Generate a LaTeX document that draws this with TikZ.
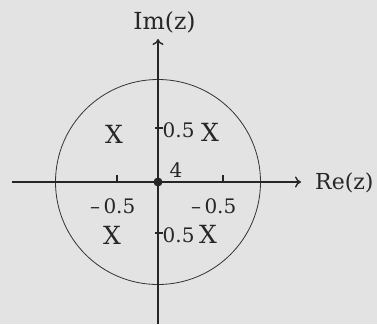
\documentclass[tikz,border=0pt]{standalone}
\usepackage{fontspec}
\setmainfont{DejaVu Serif}
\usetikzlibrary{arrows.meta}
\begin{document}
\begin{tikzpicture}[x=1pt,y=-1pt,
  axis/.style={line width=1.7pt,-{To[length=6pt,width=11pt,line width=1.4pt]}},
  lbl/.style={font=\fontsize{23.5pt}{26pt}\selectfont,inner sep=0pt,text=black!85},
  relbl/.style={font=\fontsize{22pt}{24pt}\selectfont,inner sep=0pt,text=black!85},
  num/.style={font=\fontsize{20pt}{22pt}\selectfont,inner sep=0pt,text=black!85},
  xm/.style={font=\fontsize{25pt}{27pt}\selectfont,inner sep=0pt,text=black!85},
  tick/.style={line width=1.2pt,black!85}]
\useasboundingbox (0,0) rectangle (377,324);
\fill[white!89!black] (0,0) rectangle (377,324);
\coordinate (O) at (158,182);
\coordinate (xl) at (12,182);
\coordinate (xr) at (301,182);
\coordinate (yb) at (158,324);
\coordinate (yt) at (158,39);
\draw[line width=0.8pt,black!80] (O) circle[radius=102.5];
\draw[axis,black!85] (xl) -- (xr);
\draw[axis,black!85] (yb) -- (yt);
\node[relbl,anchor=base west] (re) at (315,189) {Re(z)};
\node[lbl,anchor=base] (im) at (164.5,29) {Im(z)};
\fill[black!85] (O) circle[radius=4.5];
\node[num,anchor=base] (four) at (176,177) {4};
% ticks
\coordinate (t1) at (117,182);
\coordinate (t2) at (223,182);
\draw[tick] (t1) ++(0,-7) -- ++(0,8);
\draw[tick] (t2) ++(0,-7) -- ++(0,8);
\draw[tick] (155,128) -- (163,128);
\draw[tick] (155,233) -- (163,233);
\node[num,anchor=base west] (m1) at (90,213) {–\,0.5};
\node[num,anchor=base west] (m2) at (191,213) {–\,0.5};
\node[num,anchor=base west] (p1) at (162.5,137) {0.5};
\node[num,anchor=base west] (p2) at (162.5,242) {0.5};
\node[xm] (x1) at (114,134) {X};
\node[xm] (x2) at (210,132) {X};
\node[xm] (x3) at (112,235) {X};
\node[xm] (x4) at (208,234) {X};
\end{tikzpicture}
\end{document}
